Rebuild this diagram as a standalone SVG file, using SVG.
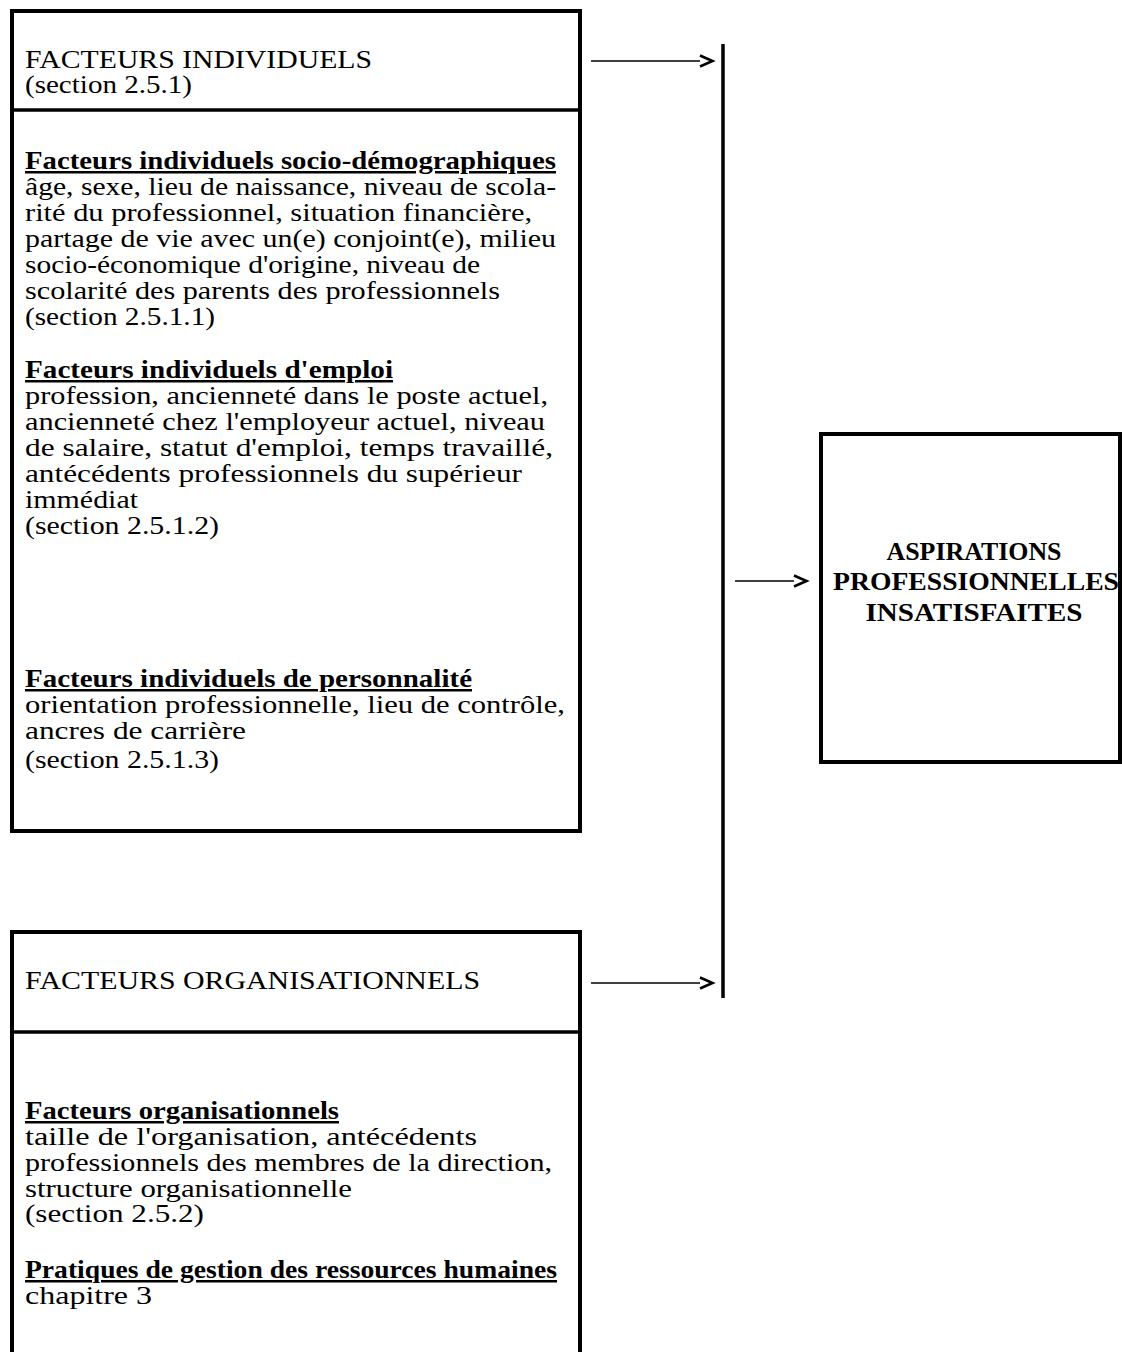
<svg xmlns="http://www.w3.org/2000/svg" width="1122" height="1352" viewBox="0 0 1122 1352">
<style>
  text { font-family: "Liberation Serif", "Times New Roman", serif; font-size: 25px; fill: #000; }
  .b { font-weight: bold; }
  .u { font-weight: bold; text-decoration: underline; }
  .box { fill: none; stroke: #000; stroke-width: 4; }
  .div { stroke: #000; stroke-width: 3.5; }
  .arr { stroke: #000; stroke-width: 1.6; fill: none; }
  .bar { stroke: #000; stroke-width: 3.5; }
</style>
<defs>
  <marker id="chev" markerUnits="userSpaceOnUse" markerWidth="18" markerHeight="16" refX="1" refY="7" orient="auto" overflow="visible">
    <path d="M1,1.5 L13.5,7 L1,12.5" fill="none" stroke="#000" stroke-width="2.6"/>
  </marker>
</defs>
<rect width="1122" height="1352" fill="#fff"/>

<g id="facteurs-individuels">
  <rect class="box" x="12" y="11" width="568" height="820"/>
  <line class="div" x1="12" y1="110" x2="580" y2="110"/>
  <text x="25" y="68" textLength="347" lengthAdjust="spacingAndGlyphs">FACTEURS  INDIVIDUELS</text>
  <text x="25" y="93" textLength="167" lengthAdjust="spacingAndGlyphs">(section 2.5.1)</text>
  <text class="u" x="25" y="169" textLength="531" lengthAdjust="spacingAndGlyphs">Facteurs  individuels socio-démographiques</text>
  <text x="25" y="195" textLength="531" lengthAdjust="spacingAndGlyphs">âge, sexe, lieu de naissance, niveau de scola-</text>
  <text x="25" y="221" textLength="507" lengthAdjust="spacingAndGlyphs">rité du professionnel, situation financière,</text>
  <text x="25" y="247" textLength="531" lengthAdjust="spacingAndGlyphs">partage de vie avec un(e) conjoint(e), milieu</text>
  <text x="25" y="273" textLength="455" lengthAdjust="spacingAndGlyphs">socio-économique d'origine, niveau de</text>
  <text x="25" y="299" textLength="475" lengthAdjust="spacingAndGlyphs">scolarité des parents des professionnels</text>
  <text x="25" y="325" textLength="190" lengthAdjust="spacingAndGlyphs">(section 2.5.1.1)</text>
  <text class="u" x="25" y="378" textLength="368" lengthAdjust="spacingAndGlyphs">Facteurs individuels d'emploi</text>
  <text x="25" y="404" textLength="523" lengthAdjust="spacingAndGlyphs">profession, ancienneté dans le poste actuel,</text>
  <text x="25" y="430" textLength="520" lengthAdjust="spacingAndGlyphs">ancienneté chez l'employeur actuel, niveau</text>
  <text x="25" y="456" textLength="528" lengthAdjust="spacingAndGlyphs">de salaire, statut d'emploi, temps travaillé,</text>
  <text x="25" y="482" textLength="497" lengthAdjust="spacingAndGlyphs">antécédents professionnels du supérieur</text>
  <text x="25" y="508" textLength="113" lengthAdjust="spacingAndGlyphs">immédiat</text>
  <text x="25" y="534" textLength="194" lengthAdjust="spacingAndGlyphs">(section 2.5.1.2)</text>
  <text class="u" x="25" y="687" textLength="447" lengthAdjust="spacingAndGlyphs">Facteurs individuels de personnalité</text>
  <text x="25" y="713" textLength="540" lengthAdjust="spacingAndGlyphs">orientation professionnelle, lieu de contrôle,</text>
  <text x="25" y="739" textLength="221" lengthAdjust="spacingAndGlyphs">ancres de carrière</text>
  <text x="25" y="768" textLength="194" lengthAdjust="spacingAndGlyphs">(section 2.5.1.3)</text>
</g>

<g id="facteurs-organisationnels">
  <path class="box" d="M12,1360 V932 H580 V1360"/>
  <line class="div" x1="12" y1="1032" x2="580" y2="1032"/>
  <text x="25" y="989" textLength="455" lengthAdjust="spacingAndGlyphs">FACTEURS  ORGANISATIONNELS</text>
  <text class="u" x="25" y="1119" textLength="314" lengthAdjust="spacingAndGlyphs">Facteurs organisationnels</text>
  <text x="25" y="1145" textLength="452" lengthAdjust="spacingAndGlyphs">taille de l'organisation, antécédents</text>
  <text x="25" y="1171" textLength="527" lengthAdjust="spacingAndGlyphs">professionnels des membres de la direction,</text>
  <text x="25" y="1197" textLength="327" lengthAdjust="spacingAndGlyphs">structure organisationnelle</text>
  <text x="25" y="1222" textLength="179" lengthAdjust="spacingAndGlyphs">(section 2.5.2)</text>
  <text class="u" x="25" y="1278" textLength="532" lengthAdjust="spacingAndGlyphs">Pratiques de gestion des ressources humaines</text>
  <text x="25" y="1304" textLength="127" lengthAdjust="spacingAndGlyphs">chapitre  3</text>
</g>

<g id="aspirations">
  <rect class="box" x="821" y="434" width="299" height="328"/>
  <text class="b" x="974" y="560" text-anchor="middle" textLength="175" lengthAdjust="spacingAndGlyphs">ASPIRATIONS</text>
  <text class="b" x="976" y="590" text-anchor="middle" textLength="286" lengthAdjust="spacingAndGlyphs">PROFESSIONNELLES</text>
  <text class="b" x="974" y="621" text-anchor="middle" textLength="217" lengthAdjust="spacingAndGlyphs">INSATISFAITES</text>
</g>

<g id="connectors">
  <line class="bar" x1="723" y1="44" x2="723" y2="998"/>
  <line class="arr" x1="591" y1="61" x2="700" y2="61" marker-end="url(#chev)"/>
  <line class="arr" x1="591" y1="983" x2="700" y2="983" marker-end="url(#chev)"/>
  <line class="arr" x1="735" y1="581" x2="794" y2="581" marker-end="url(#chev)"/>
</g>
</svg>
